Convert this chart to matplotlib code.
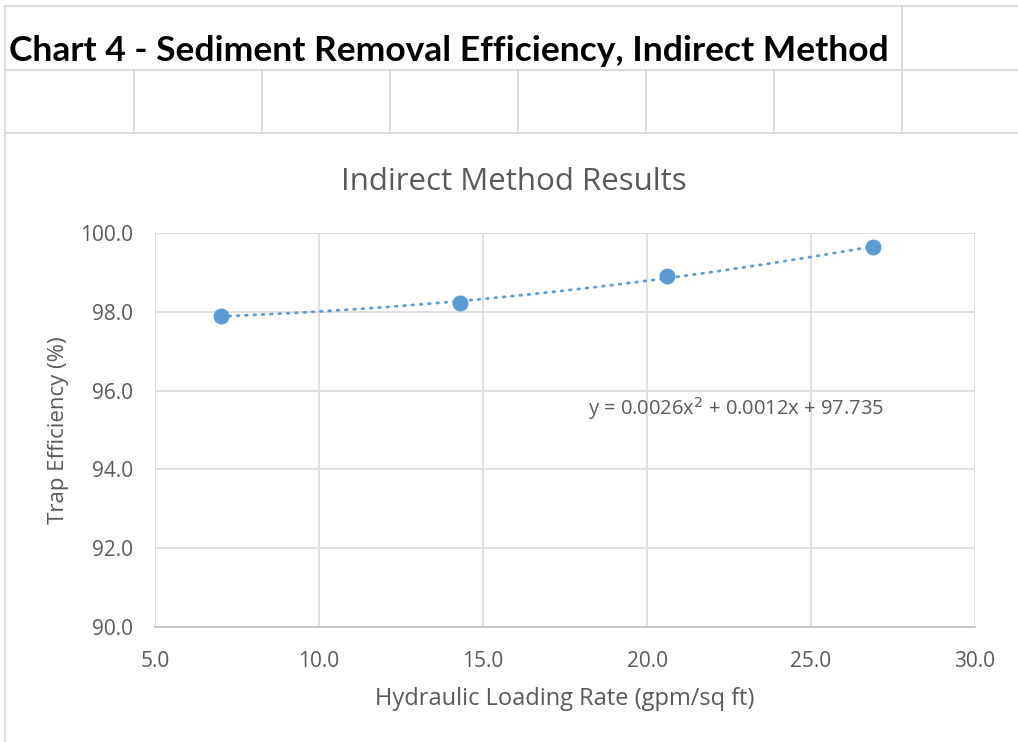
import matplotlib.pyplot as plt
import numpy as np
from matplotlib.lines import Line2D

# data
loading_rate = [7.0, 14.3, 20.6, 26.9]
trap_eff = [97.9, 98.22, 98.91, 99.64]
x_ticks = [5.0, 10.0, 15.0, 20.0, 25.0, 30.0]
y_ticks = [90.0, 92.0, 94.0, 96.0, 98.0, 100.0]

blue = '#5B9BD5'
grey = '#595959'
cell = '#d4d4d4'

plt.rcParams['font.family'] = ['Open Sans', 'DejaVu Sans']

fig = plt.figure(figsize=(10.18, 7.42), dpi=100)
W, H = 1018.0, 742.0

def px(x, y):
    return x / W, 1 - y / H

# spreadsheet cell lines above the chart
def hline(y, x0, x1):
    fig.add_artist(Line2D([x0 / W, x1 / W], [1 - y / H, 1 - y / H], color=cell, lw=1.2))

def vline(x, y0, y1):
    fig.add_artist(Line2D([x / W, x / W], [1 - y0 / H, 1 - y1 / H], color=cell, lw=1.2))

hline(6, 5, 1018)
hline(70, 5, 1018)
hline(133, 5, 1018)
vline(5, 6, 742)
vline(902, 6, 133)
for cx in [134, 262, 390, 518, 646, 774]:
    vline(cx, 70, 133)

fig.text(*px(9, 51), "Chart 4 - Sediment Removal Efficiency, Indirect Method",
         fontsize=25.5, fontweight='bold', ha='left', va='center',
         family=['Lato', 'DejaVu Sans'], color='black')

ax = fig.add_axes([155 / W, 1 - 627 / H, (975 - 155) / W, (627 - 233) / H])
ax.set_xlim(5, 30)
ax.set_ylim(90, 100)
ax.set_xticks(x_ticks)
ax.set_yticks(y_ticks)
ax.set_xticklabels(['%.1f' % v for v in x_ticks])
ax.set_yticklabels(['%.1f' % v for v in y_ticks])
ax.grid(True, color='#d9d9d9', lw=1.2)
ax.set_axisbelow(True)
for s in ['top', 'right', 'left']:
    ax.spines[s].set_visible(False)
ax.spines['bottom'].set_color('#bfbfbf')
ax.spines['bottom'].set_linewidth(1.2)
ax.tick_params(length=0, labelsize=15, colors=grey)
ax.tick_params(axis='x', pad=17)
ax.tick_params(axis='y', pad=16)

# polynomial trendline (order 2), as excel does
coef = np.polyfit(loading_rate, trap_eff, 2)
xs = np.linspace(min(loading_rate), max(loading_rate), 200)
ax.plot(xs, np.polyval(coef, xs), color=blue, lw=2, ls=(0, (0.6, 2.4)),
        dash_capstyle='round', zorder=2)
ax.scatter(loading_rate, trap_eff, s=110, color=blue, zorder=3, clip_on=False)

ax.text(18.2, 95.55, "y = 0.0026x$^2$ + 0.0012x + 97.735", fontsize=14.5,
        color=grey, ha='left', va='center')

fig.text(*px(514, 182), "Indirect Method Results", fontsize=22.5, color=grey,
         ha='center', va='center')
ax.set_xlabel("Hydraulic Loading Rate (gpm/sq ft)", fontsize=17, color=grey, labelpad=11)
ax.set_ylabel("Trap Efficiency (%)", fontsize=16, color=grey, labelpad=8)

fig.savefig("out.png", dpi=100)
